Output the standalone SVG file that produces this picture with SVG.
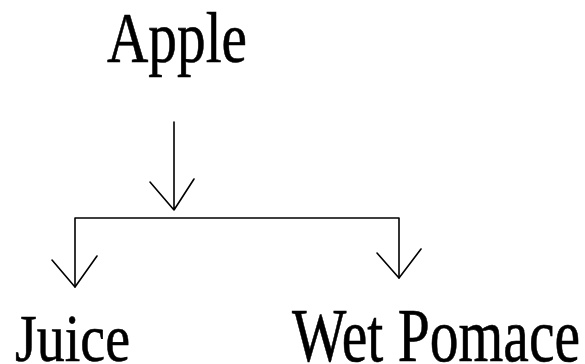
<svg xmlns="http://www.w3.org/2000/svg" width="585" height="364" viewBox="0 0 585 364">
<style>
.t{font-family:"Liberation Serif","Times New Roman",serif;fill:#000;stroke:#000;stroke-width:0.6}
.c{stroke:#000;stroke-width:1.6;fill:none;stroke-linecap:round;stroke-linejoin:round}
</style>
<rect width="585" height="364" fill="#fff"/>
<g id="apple"><text class="t" x="107" y="62" font-size="71" textLength="140" lengthAdjust="spacingAndGlyphs">Apple</text></g>
<g id="juice"><text class="t" x="15" y="361" font-size="67" textLength="115" lengthAdjust="spacingAndGlyphs">Juice</text></g>
<g id="wetpomace"><text class="t" x="292" y="361" font-size="77" textLength="288" lengthAdjust="spacingAndGlyphs">Wet Pomace</text></g>
<g id="connectors">
<path class="c" d="M174 122 V210 M150 182 L174 210 L194 179"/>
<path class="c" d="M75 287 V218 H399 V278"/>
<path class="c" d="M52 260 L75 287 L97 256"/>
<path class="c" d="M377 253 L399 278 L421 249"/>
</g>
</svg>
